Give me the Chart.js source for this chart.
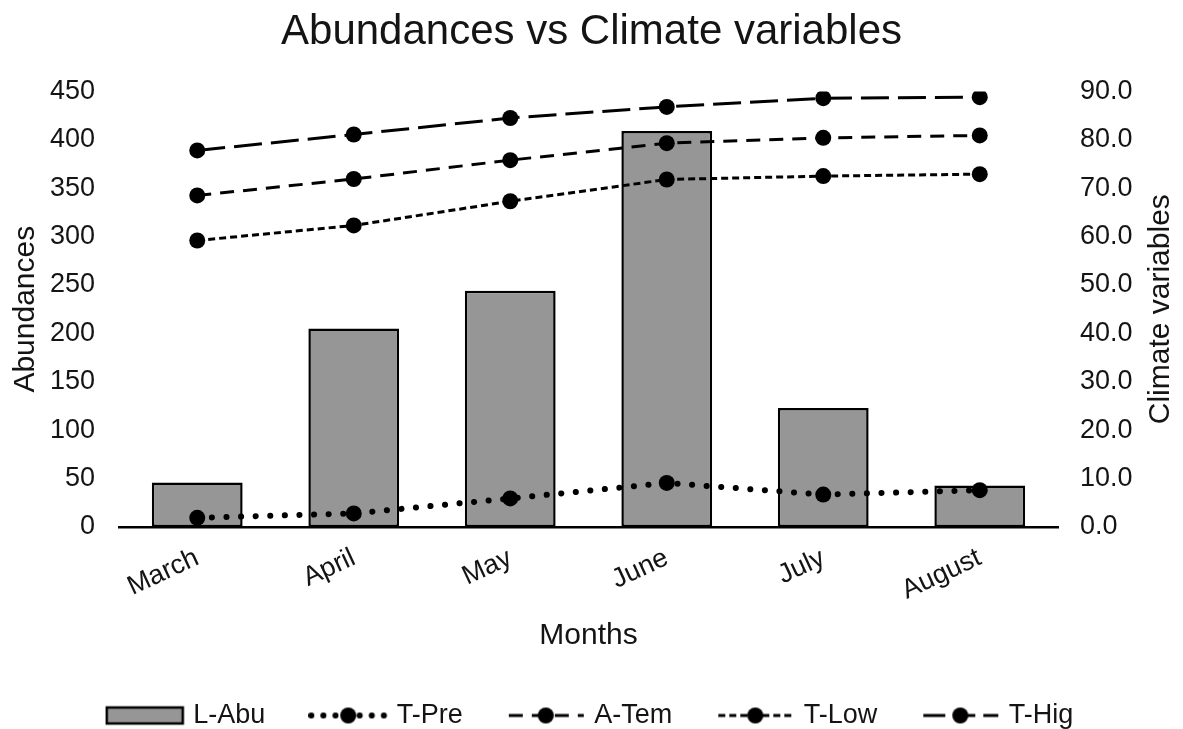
<!DOCTYPE html>
<html>
<head>
<meta charset="utf-8">
<script src="https://cdn.jsdelivr.net/npm/chart.js@4.4.1/dist/chart.umd.min.js"></script>
<style>
  html, body { margin: 0; padding: 0; background: #fff; }
  #wrap { width: 1183px; height: 729px; }
</style>
</head>
<body>
<div id="wrap"><canvas id="c" width="1183" height="729"></canvas></div>
<script>
const months = ['March', 'April', 'May', 'June', 'July', 'August'];
const lAbu = [46, 205, 244, 409, 123, 43];
const tPre = [1.9, 2.8, 5.9, 9.1, 6.7, 7.6];
const aTem = [68.5, 71.9, 75.8, 79.3, 80.4, 80.9];
const tLow = [59.2, 62.3, 67.3, 71.8, 72.5, 72.9];
const tHig = [77.8, 81.1, 84.5, 86.8, 88.6, 88.8];
const seriesNames = ['L-Abu', 'T-Pre', 'A-Tem', 'T-Low', 'T-Hig'];

const FONT = "'Liberation Sans', Arial, sans-serif";
const TXT = '#141414';

const dashes = {
  'T-Pre': { dash: [0.1, 14.5], width: 6, cap: 'round' },
  'A-Tem': { dash: [14, 9], width: 3, cap: 'butt' },
  'T-Low': { dash: [7, 4], width: 3, cap: 'butt' },
  'T-Hig': { dash: [28, 9], width: 3, cap: 'butt' }
};

function legendLine(name) {
  const c = document.createElement('canvas');
  c.width = 80; c.height = 22;
  const g = c.getContext('2d');
  const d = dashes[name];
  g.strokeStyle = '#000';
  g.lineWidth = d.width;
  g.lineCap = d.cap;
  g.setLineDash(name === 'T-Pre' ? [0.1, 12] : name === 'T-Hig' ? [22, 8] : d.dash);
  g.beginPath(); g.moveTo(3, 11); g.lineTo(78, 11); g.stroke();
  g.setLineDash([]);
  g.fillStyle = '#000';
  g.beginPath(); g.arc(40, 11, 8, 0, Math.PI * 2); g.fill();
  return c;
}
function legendBar() {
  const c = document.createElement('canvas');
  c.width = 80; c.height = 22;
  const g = c.getContext('2d');
  g.fillStyle = '#969696';
  g.fillRect(2, 3, 76, 16);
  g.strokeStyle = '#000';
  g.lineWidth = 2.5;
  g.strokeRect(2, 3, 76, 16);
  return c;
}

function lineDs(label, data) {
  const d = dashes[label];
  return {
    type: 'line',
    label: label,
    data: data,
    yAxisID: 'y1',
    borderColor: '#000',
    backgroundColor: '#000',
    borderWidth: d.width,
    borderDash: d.dash,
    borderCapStyle: d.cap,
    pointRadius: 8,
    pointHoverRadius: 8,
    pointBackgroundColor: '#000',
    pointBorderColor: '#000',
    pointBorderWidth: 0,
    pointStyle: 'circle',
    tension: 0,
    fill: false,
    order: 0
  };
}

const rightTitlePlugin = {
  id: 'rightTitle',
  afterDraw(chart) {
    const a = chart.chartArea;
    const g = chart.ctx;
    g.save();
    g.fillStyle = TXT;
    g.font = "30px " + FONT;
    g.textAlign = 'center';
    g.textBaseline = 'middle';
    g.translate(a.right + 103, (a.top + a.bottom) / 2);
    g.rotate(-Math.PI / 2);
    g.fillText('Climate variables', 0, 0);
    g.restore();
  }
};

new Chart(document.getElementById('c'), {
  data: {
    labels: months,
    datasets: [
      {
        type: 'bar',
        label: seriesNames[0],
        data: lAbu,
        yAxisID: 'y',
        backgroundColor: '#969696',
        borderColor: '#000',
        borderWidth: 2.5,
        borderSkipped: false,
        categoryPercentage: 1.0,
        barPercentage: 0.58,
        order: 1
      },
      lineDs(seriesNames[1], tPre),
      lineDs(seriesNames[2], aTem),
      lineDs(seriesNames[3], tLow),
      lineDs(seriesNames[4], tHig)
    ]
  },
  options: {
    responsive: false,
    animation: false,
    layout: { autoPadding: false, padding: { left: 8, right: 8, top: 0, bottom: -10 } },
    plugins: {
      title: {
        display: true,
        text: 'Abundances vs Climate variables',
        color: TXT,
        font: { family: FONT, size: 42, weight: 'normal' },
        padding: { top: 7, bottom: 34 }
      },
      legend: {
        position: 'bottom',
        labels: {
          usePointStyle: true,
          pointStyleWidth: 70,
          padding: 48,
          color: TXT,
          font: { family: FONT, size: 27 },
          sort: (a, b) => a.datasetIndex - b.datasetIndex,
          generateLabels(chart) {
            return chart.data.datasets.map((ds, i) => ({
              text: ds.label,
              datasetIndex: i,
              pointStyle: i === 0 ? legendBar() : legendLine(ds.label),
              fillStyle: '#000',
              strokeStyle: '#000',
              lineWidth: 0,
              fontColor: TXT,
              hidden: false
            }));
          }
        }
      },
      tooltip: { enabled: false }
    },
    scales: {
      x: {
        grid: { display: false, drawTicks: false },
        border: { display: true, color: '#000', width: 2.5 },
        afterFit(s) { s.height = 127; },
        ticks: {
          color: TXT,
          font: { family: FONT, size: 27 },
          maxRotation: 25,
          minRotation: 25,
          padding: 15
        },
        title: {
          display: true,
          text: 'Months',
          color: TXT,
          font: { family: FONT, size: 30 },
          padding: { top: 0, bottom: 0 }
        }
      },
      y: {
        position: 'left',
        min: 0,
        max: 450,
        grid: { display: false, drawTicks: false },
        border: { display: false },
        afterFit(s) { s.width = 111; },
        ticks: {
          stepSize: 50,
          color: TXT,
          font: { family: FONT, size: 27 },
          padding: 24
        },
        title: {
          display: true,
          text: 'Abundances',
          color: TXT,
          font: { family: FONT, size: 30 },
          padding: { top: 0, bottom: 6 }
        }
      },
      y1: {
        position: 'right',
        min: 0,
        max: 90,
        grid: { display: false, drawTicks: false },
        border: { display: false },
        afterFit(s) { s.width = 117; },
        ticks: {
          stepSize: 10,
          color: TXT,
          font: { family: FONT, size: 27 },
          padding: 22,
          callback: v => Number(v).toFixed(1)
        },
        title: {
          display: true,
          text: 'Climate variables',
          color: 'rgba(0,0,0,0)',
          font: { family: FONT, size: 30 },
          padding: { top: 6, bottom: 4 }
        }
      }
    }
  },
  plugins: [rightTitlePlugin]
});
</script>
</body>
</html>
